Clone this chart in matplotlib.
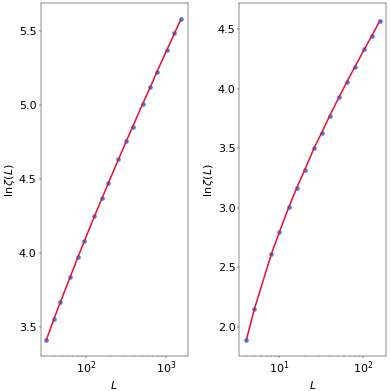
import matplotlib
matplotlib.use("Agg")
import matplotlib.pyplot as plt

# left panel: ln zeta(L) against L
L_left = [32, 40, 48, 64, 80, 96, 128, 160, 192, 256, 320, 384, 512, 640, 768, 1024, 1280, 1536]
lnz_left = [3.410, 3.554, 3.667, 3.840, 3.975, 4.081, 4.248, 4.372, 4.475, 4.633,
            4.755, 4.853, 5.007, 5.122, 5.221, 5.370, 5.484, 5.579]

# right panel
L_right = [4, 5, 8, 10, 13, 16, 20, 26, 32, 40, 52, 64, 80, 104, 128, 160]
lnz_right = [1.888, 2.149, 2.611, 2.798, 3.008, 3.161, 3.315, 3.500, 3.629, 3.772,
             3.931, 4.054, 4.181, 4.330, 4.444, 4.571]

plt.rcParams['font.size'] = 20

fig = plt.figure(figsize=(9.75, 9.775), dpi=40)
ax1 = fig.add_axes([0.104, 0.0895, 0.377, 0.9025])
ax2 = fig.add_axes([0.614, 0.0895, 0.376, 0.9025])

panels = [(ax1, L_left, lnz_left, (27.2, 1868), (3.304, 5.689)),
          (ax2, L_right, lnz_right, (3.31, 190), (1.754, 4.718))]

for ax, L, y, xl, yl in panels:
    ax.plot(L, y, 'o', color='#2f86f5', markersize=7)
    ax.plot(L, y, '-', color='#ee1133', linewidth=2.8)
    ax.set_xscale('log')
    ax.set_xlim(*xl)
    ax.set_ylim(*yl)
    ax.set_xlabel('$L$')
    ax.set_ylabel(r'$\ln\zeta(L)$')

ax1.set_yticks([3.5, 4.0, 4.5, 5.0, 5.5])
ax2.set_yticks([2.0, 2.5, 3.0, 3.5, 4.0, 4.5])

fig.savefig('out.png', dpi=40)
